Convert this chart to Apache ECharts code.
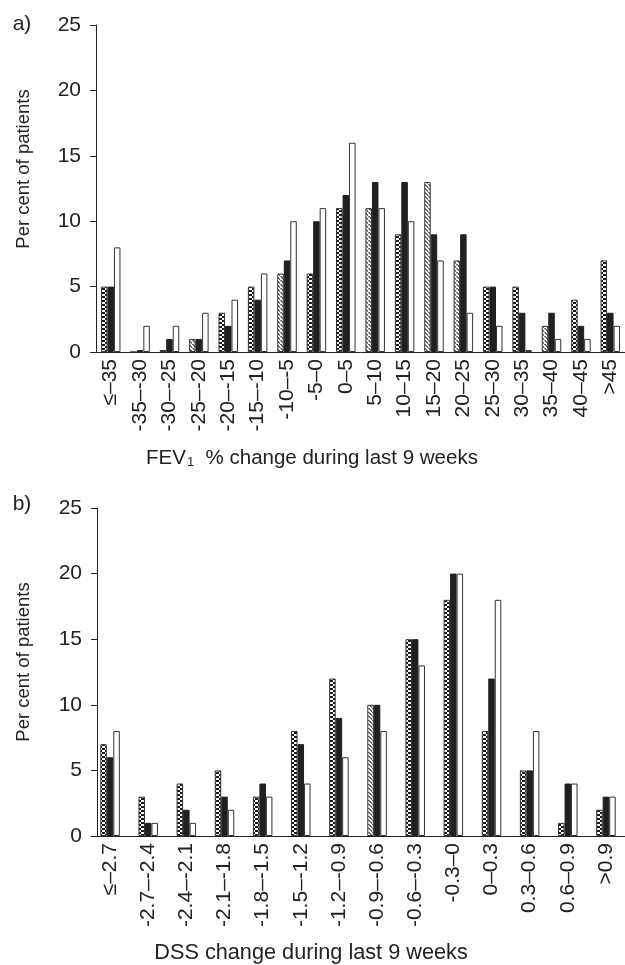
<!DOCTYPE html>
<html>
<head>
<meta charset="utf-8">
<script src="https://cdn.jsdelivr.net/npm/echarts@6/dist/echarts.min.js"></script>
<style>
  html, body { margin: 0; padding: 0; background: #fff; }
  #chart { width: 625px; height: 965px; }
</style>
</head>
<body>
<div id="chart"></div>
<script>
// --- data ---
const catsA = ['≤–35', '-35–-30', '-30–-25', '-25–-20', '-20–-15', '-15–-10', '-10–-5', '-5–0', '0–5',
  '5–10', '10–15', '15–20', '20–25', '25–30', '30–35', '35–40', '40–45', '>45'];
const patA   = [5, 0, 0.15, 1, 3, 5, 6, 6, 11, 11, 9, 13, 7, 5, 5, 2, 4, 7];
const blackA = [5, 0.15, 1, 1, 2, 4, 7, 10, 12, 13, 13, 9, 9, 5, 3, 3, 2, 3];
const whiteA = [8, 2, 2, 3, 4, 6, 10, 11, 16, 11, 10, 7, 3, 2, 0.15, 1, 1, 2];
const hatchA = [3, 6, 9, 11, 12, 15];

const catsB = ['≤–2.7', '-2.7–-2.4', '-2.4–-2.1', '-2.1–-1.8', '-1.8–-1.5', '-1.5–-1.2', '-1.2–-0.9',
  '-0.9–-0.6', '-0.6–-0.3', '-0.3–0', '0–0.3', '0.3–0.6', '0.6–0.9', '>0.9'];
const patB   = [7, 3, 4, 5, 3, 8, 12, 10, 15, 18, 8, 5, 1, 2];
const blackB = [6, 1, 2, 3, 4, 7, 9, 10, 15, 20, 12, 5, 4, 3];
const whiteB = [8, 1, 1, 2, 3, 4, 6, 8, 13, 20, 18, 8, 4, 3];
const hatchB = [7];

const yTicks = [0, 5, 10, 15, 20, 25];

const FONT = "'Liberation Sans', Arial, Helvetica, sans-serif";

// --- patterns ---
function makeTile(w, h, draw) {
  const c = document.createElement('canvas');
  c.width = w; c.height = h;
  const ctx = c.getContext('2d');
  ctx.fillStyle = '#fff';
  ctx.fillRect(0, 0, w, h);
  draw(ctx);
  return { image: c, repeat: 'repeat' };
}
// black diagonal dashes
const dotPattern = makeTile(6, 4, ctx => {
  ctx.fillStyle = '#1a1a1a';
  ctx.fillRect(0, 0, 3, 2);
  ctx.fillRect(3, 2, 3, 2);
});
// gray diagonal hatching
const grayPattern = makeTile(4, 4, ctx => {
  ctx.fillStyle = '#6e6e6e';
  for (let i = 0; i < 4; i++) ctx.fillRect(i, i, 2, 1);
});

const chart = echarts.init(document.getElementById('chart'));

function axisPair(grid, cats, offset) {
  return {
    x: {
      type: 'category', gridIndex: grid, data: cats,
      axisLine: { lineStyle: { color: '#222', width: 1 } },
      axisTick: { show: false },
      axisLabel: { rotate: 90, margin: 7, color: '#222', fontFamily: FONT, fontSize: 21, interval: 0 }
    },
    y: {
      type: 'value', gridIndex: grid, min: yTicks[0], max: yTicks[yTicks.length - 1], interval: 5,
      offset: offset,
      axisLine: { show: true, lineStyle: { color: '#222', width: 1 } },
      axisTick: { show: true, length: 6, lineStyle: { color: '#222' } },
      axisLabel: { margin: 15, color: '#222', fontFamily: FONT, fontSize: 21 },
      splitLine: { show: false }
    }
  };
}

function barSeries(grid, pat, black, white, hatched) {
  const base = { type: 'bar', xAxisIndex: grid, yAxisIndex: grid, barWidth: 6.5, barGap: '0%', silent: true };
  return [
    { ...base,
      itemStyle: { borderColor: '#333', borderWidth: 1 },
      data: pat.map((v, i) => ({ value: v, itemStyle: { color: hatched.includes(i) ? grayPattern : dotPattern } })) },
    { ...base, itemStyle: { color: '#231f20', borderColor: '#231f20', borderWidth: 1 }, data: black },
    { ...base, itemStyle: { color: '#fff', borderColor: '#333', borderWidth: 1 }, data: white }
  ];
}

const axA = axisPair(0, catsA, 0);
const axB = axisPair(1, catsB, -6);

const txt = (x, y, text, size, extra) => ({
  type: 'text', x: x, y: y, silent: true, ...(extra || {}),
  style: { text: text, fontSize: size, fontFamily: FONT, fill: '#222', align: 'center', verticalAlign: 'middle' }
});

chart.setOption({
  animation: false,
  grid: [
    { left: 96, top: 25, width: 531, height: 327 },
    { left: 91, top: 508, width: 540, height: 328 }
  ],
  xAxis: [axA.x, axB.x],
  yAxis: [axA.y, axB.y],
  series: [...barSeries(0, patA, blackA, whiteA, hatchA), ...barSeries(1, patB, blackB, whiteB, hatchB)],
  graphic: [
    txt(22, 24, 'a)', 21),
    txt(22, 504, 'b)', 21),
    txt(24, 169, 'Per cent of patients', 18.5, { rotation: Math.PI / 2 }),
    txt(24, 662, 'Per cent of patients', 18.5, { rotation: Math.PI / 2 }),
    {
      type: 'text', x: 312, y: 458, silent: true,
      style: {
        text: '{a|FEV}{s|1}{a|  % change during last 9 weeks}',
        align: 'center', verticalAlign: 'middle',
        rich: {
          a: { fontSize: 20.5, fontFamily: FONT, fill: '#222' },
          s: { fontSize: 13, fontFamily: FONT, fill: '#222', padding: [8, 0, 0, 1] }
        }
      }
    },
    txt(311, 953, 'DSS change during last 9 weeks', 21.7)
  ]
});
</script>
</body>
</html>
